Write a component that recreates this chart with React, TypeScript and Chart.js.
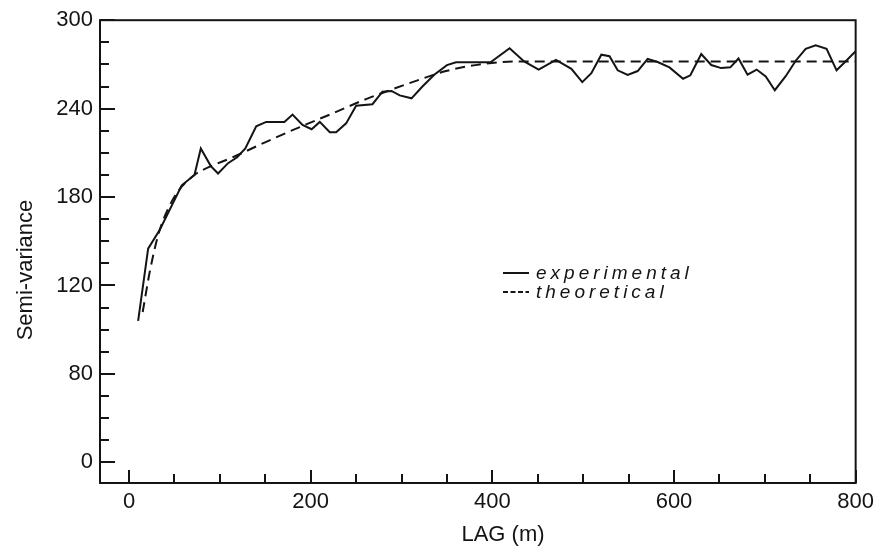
import React, { useEffect, useRef } from 'react';
import { Chart, registerables } from 'chart.js';

Chart.register(...registerables);

// ---- data ----
const expLag = [10, 21, 34, 58, 72, 79, 90, 98, 109, 119, 128, 140, 151, 171, 180, 191, 201, 210, 221, 228, 239, 250, 268, 279, 289, 298, 311, 323, 336, 350, 360, 398, 419, 435, 451, 470, 487, 499, 509, 520, 529, 538, 549, 560, 571, 582, 595, 610, 618, 630, 641, 652, 662, 671, 681, 691, 701, 711, 723, 734, 745, 756, 768, 779, 788, 800];
const expVal = [96, 145, 158, 188, 195, 213, 201, 196, 203, 207, 213, 228, 231, 231, 236, 229, 226, 231, 224, 224, 230, 242, 243, 251.5, 252, 249, 247, 255, 263, 269.5, 271.5, 271.5, 281, 272, 266.5, 273, 267, 258, 264, 276.6, 275.6, 266, 262.8, 265.5, 273.8, 271.6, 268, 260.3, 262.6, 277, 269.6, 267.5, 268, 274, 263, 266.5, 261.8, 252.5, 262, 272.5, 280.6, 283, 280.6, 266, 271.5, 279];

const theoLag = [15, 23, 32, 40, 54, 72, 80, 116, 151, 188, 225, 261, 287, 312, 349, 386, 430, 800];
const theoVal = [102, 130, 154, 168, 184, 195, 198, 207.5, 217.5, 227.5, 237, 246.5, 252.5, 258, 265.5, 270, 272, 272];

const xTickValues = [0, 200, 400, 600, 800];
const xTickLabels = ['0', '200', '400', '600', '800'];
const yTickValues = [0, 60, 120, 180, 240, 300];
const yTickLabels = ['0', '80', '120', '180', '240', '300'];
const xMinorStep = 50;
const yMinorStep = 15;

const seriesLabels = ['experimental', 'theoretical'];
const xTitle = 'LAG (m)';
const yTitle = 'Semi-variance';

const INK = '#141414';
const FONT = "'Liberation Sans', Arial, Helvetica, sans-serif";

const decorPlugin = {
  id: 'decor',
  afterDraw(chart: any) {
    const { ctx, chartArea: a, scales } = chart;
    const x = scales.x;
    const y = scales.y;
    ctx.save();
    ctx.strokeStyle = INK;
    ctx.lineWidth = 2;
    ctx.setLineDash([]);
    // frame
    ctx.strokeRect(a.left, a.top, a.right - a.left, a.bottom - a.top);
    // inward y ticks
    const yMaxTick = yTickValues[yTickValues.length - 1];
    for (let v = yTickValues[0]; v <= yMaxTick; v += yMinorStep) {
      const py = Math.round(y.getPixelForValue(v));
      const len = yTickValues.includes(v) ? 15 : 9;
      ctx.beginPath();
      ctx.moveTo(a.left, py);
      ctx.lineTo(a.left + len, py);
      ctx.stroke();
    }
    // inward x ticks
    const xMaxTick = xTickValues[xTickValues.length - 1];
    for (let v = xTickValues[0]; v <= xMaxTick; v += xMinorStep) {
      const px = Math.round(x.getPixelForValue(v));
      const len = xTickValues.includes(v) ? 13 : 9;
      ctx.beginPath();
      ctx.moveTo(px, a.bottom);
      ctx.lineTo(px, a.bottom - len);
      ctx.stroke();
    }
    // legend
    const lx0 = 503, lx1 = 529, tx = 536;
    const rows = [273, 292];
    ctx.lineWidth = 2;
    ctx.fillStyle = INK;
    ctx.font = `italic 19px ${FONT}`;
    (ctx as any).letterSpacing = '4px';
    ctx.textAlign = 'left';
    ctx.textBaseline = 'middle';
    seriesLabels.forEach((lab, i) => {
      ctx.setLineDash(i === 0 ? [] : [5, 2.5]);
      ctx.beginPath();
      ctx.moveTo(lx0, rows[i]);
      ctx.lineTo(lx1, rows[i]);
      ctx.stroke();
      ctx.fillText(lab, tx, rows[i] + 1);
    });
    ctx.setLineDash([]);
    (ctx as any).letterSpacing = '0px';
    // axis titles
    ctx.font = `22px ${FONT}`;
    ctx.textAlign = 'center';
    ctx.textBaseline = 'alphabetic';
    ctx.fillText(xTitle, 503, 541);
    ctx.translate(32, 270);
    ctx.rotate(-Math.PI / 2);
    ctx.fillText(yTitle, 0, 0);
    ctx.restore();
  },
};

export default function App() {
  const ref = useRef<HTMLCanvasElement | null>(null);
  useEffect(() => {
    if (!ref.current) return;
    const chart = new Chart(ref.current, {
      type: 'scatter',
      data: {
        datasets: [
          {
            label: seriesLabels[0],
            data: expLag.map((lx, i) => ({ x: lx, y: expVal[i] })),
            showLine: true,
            borderColor: INK,
            borderWidth: 2,
            pointRadius: 0,
            tension: 0,
          },
          {
            label: seriesLabels[1],
            data: theoLag.map((lx, i) => ({ x: lx, y: theoVal[i] })),
            showLine: true,
            borderColor: INK,
            borderWidth: 2,
            borderDash: [10, 6],
            pointRadius: 0,
            cubicInterpolationMode: 'monotone',
          },
        ],
      },
      options: {
        responsive: false,
        animation: false,
        layout: { padding: { left: 0, right: 23, top: 18, bottom: 0 } },
        plugins: { legend: { display: false }, tooltip: { enabled: false } },
        scales: {
          x: {
            type: 'linear',
            min: -32,
            max: 800,
            afterBuildTicks: (s: any) => {
              s.ticks = xTickValues.map((v) => ({ value: v }));
            },
            afterFit: (s: any) => {
              s.height = 72;
            },
            grid: { display: false, drawTicks: false },
            border: { display: false },
            ticks: {
              padding: 6,
              color: INK,
              maxRotation: 0,
              autoSkip: false,
              font: { family: FONT, size: 22 },
              callback: (v: any) => xTickLabels[xTickValues.indexOf(Number(v))] ?? '',
            },
          },
          y: {
            type: 'linear',
            min: -14,
            max: 300,
            afterBuildTicks: (s: any) => {
              s.ticks = yTickValues.map((v) => ({ value: v }));
            },
            afterFit: (s: any) => {
              s.width = 100;
            },
            grid: { display: false, drawTicks: false },
            border: { display: false },
            ticks: {
              padding: 7,
              color: INK,
              autoSkip: false,
              font: { family: FONT, size: 22 },
              callback: (v: any) => yTickLabels[yTickValues.indexOf(Number(v))] ?? '',
            },
          },
        },
      },
      plugins: [decorPlugin],
    });
    return () => chart.destroy();
  }, []);
  return (
    <div style={{ position: 'absolute', left: 0, top: 0, width: 880, height: 555, background: '#fff' }}>
      <canvas ref={ref} width={880} height={555} style={{ display: 'block' }} />
    </div>
  );
}
